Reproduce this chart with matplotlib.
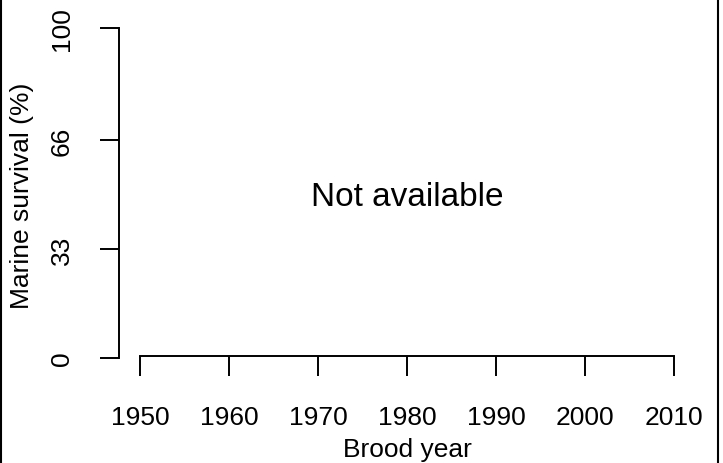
import matplotlib
matplotlib.use("Agg")
import matplotlib.pyplot as plt
from matplotlib.lines import Line2D

plt.rcParams['font.family'] = ['Liberation Sans', 'DejaVu Sans']

# data
x_ticks = [1950, 1960, 1970, 1980, 1990, 2000, 2010]
y_ticks = [0, 33, 66, 100]
y_tick_labels = ["0", "33", "66", "100"]
message = "Not available"
x_label = "Brood year"
y_label = "Marine survival (%)"

W, H = 723, 464
fig = plt.figure(figsize=(W / 100, H / 100), dpi=100)

# axes box in pixels: left edge = y axis, bottom = y value 0
left_px, right_px, top_px, bottom_px = 119, 700, 29, 359
ax = fig.add_axes([left_px / W, 1 - bottom_px / H,
                   (right_px - left_px) / W, (bottom_px - top_px) / H])

px_per_year = (674 - 140) / 60.0
ax.set_xlim(1950 - (140 - left_px) / px_per_year,
            1950 + (right_px - 140) / px_per_year)
ax.set_ylim(0, 100)

lw = 1.4
for s in ['top', 'right']:
    ax.spines[s].set_visible(False)
ax.spines['left'].set_bounds(0, 100)
ax.spines['bottom'].set_bounds(x_ticks[0], x_ticks[-1])
ax.spines['bottom'].set_position(('data', 0.6))
for s in ['left', 'bottom']:
    ax.spines[s].set_linewidth(lw)

ax.set_xticks(x_ticks)
ax.set_xticklabels([str(v) for v in x_ticks], fontsize=19)
ax.set_yticks(y_ticks)
ax.set_yticklabels(y_tick_labels, fontsize=19, rotation=90, va='center')
ax.tick_params(axis='x', direction='out', length=14.4, width=lw, pad=21)
ax.tick_params(axis='y', direction='out', length=13.7, width=lw, pad=19)

ax.text(1980, 49, message, fontsize=24, ha='center', va='center')

fig.text(407 / W, 1 - 450 / H, x_label, fontsize=19, ha='center', va='center')
fig.text(22 / W, 1 - 196 / H, y_label, fontsize=19, ha='center', va='center',
         rotation=90)

# outer frame edges (left and right only)
fig.add_artist(Line2D([1 / W, 1 / W], [0, 1], color='black', lw=1.5,
                      transform=fig.transFigure))
fig.add_artist(Line2D([718 / W, 718 / W], [0, 1], color='black', lw=1.5,
                      transform=fig.transFigure))

fig.savefig("out.png", dpi=100)
